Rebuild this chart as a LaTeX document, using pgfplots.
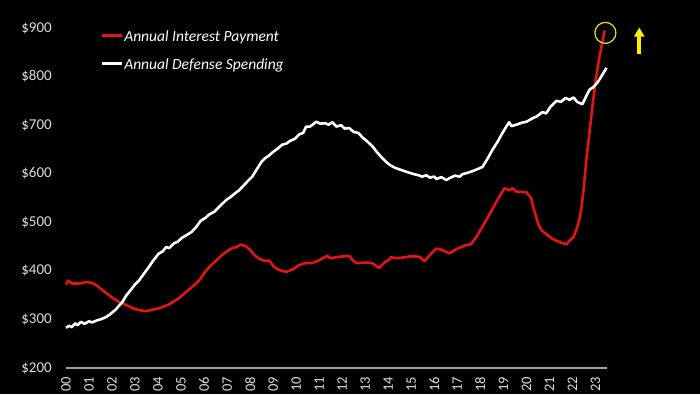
\documentclass[border=0pt]{standalone}
\usepackage{pgfplots}
\pgfplotsset{compat=1.18}
\usepackage{fontspec}
\setmainfont{Carlito}
\usetikzlibrary{arrows.meta}
\definecolor{intred}{RGB}{228,20,20}
\definecolor{ticktxt}{RGB}{220,220,220}
\definecolor{axgray}{RGB}{160,160,160}
\definecolor{circy}{RGB}{215,215,70}
\definecolor{arry}{RGB}{255,238,0}
\begin{document}
\begin{tikzpicture}
\fill[black] (-66pt,-26pt) rectangle (634pt,368pt);
\path[use as bounding box] (-66pt,-26pt) rectangle (634pt,368pt);
\begin{axis}[
  at={(0pt,0pt)}, anchor=south west,
  scale only axis, width=541pt, height=340pt,
  xmin=2000, xmax=2023.5, ymin=200, ymax=900,
  clip=false,
  axis line style={draw=none},
  major tick length=0pt,
  xtick={2000,...,2023},
  xticklabels={00,01,02,03,04,05,06,07,08,09,10,11,12,13,14,15,16,17,18,19,20,21,22,23},
  xticklabel style={rotate=90, anchor=east, font=\fontsize{14.5}{16}\selectfont, text=ticktxt, inner sep=0pt, xshift=-9pt},
  ytick={200,300,...,900},
  yticklabels={\$200,\$300,\$400,\$500,\$600,\$700,\$800,\$900},
  yticklabel style={anchor=east, font=\fontsize{15}{17}\selectfont, text=ticktxt, inner sep=0pt, xshift=-14pt},
  legend cell align=left,
  legend style={at={(rel axis cs:0.063,0.996)}, anchor=north west, draw=none, fill=none, text=white,
    font=\fontsize{15.5}{17}\selectfont\itshape, inner sep=0pt, row sep=15pt,
    nodes={inner sep=1pt, text depth=0pt}},
  legend image code/.code={\draw[#1, line width=3pt] (0pt,0pt) -- (20pt,0pt);},
]
\draw[axgray, line width=1.6pt] (rel axis cs:0,0) -- (rel axis cs:1,0);
\addplot[intred, line width=2.6pt, line join=round] coordinates {
(2000.00,372) (2000.10,380) (2000.25,374) (2000.57,374) (2000.90,377) (2001.13,375)
(2001.30,371) (2001.65,358) (2002.00,345) (2002.30,336) (2002.60,330) (2002.96,322)
(2003.20,319) (2003.48,317) (2003.75,320) (2004.04,323) (2004.48,331) (2004.91,344)
(2005.20,356) (2005.48,367) (2005.78,380) (2006.00,395) (2006.22,408) (2006.50,420)
(2006.78,433) (2007.17,446) (2007.40,449) (2007.60,454) (2007.80,451) (2007.96,445)
(2008.20,432) (2008.39,425) (2008.60,421) (2008.83,421) (2009.04,408) (2009.30,401)
(2009.57,398) (2009.85,403) (2010.13,412) (2010.40,416) (2010.70,416) (2011.00,422)
(2011.35,431) (2011.50,426) (2011.87,429) (2012.30,431) (2012.45,422) (2012.60,416)
(2013.00,417) (2013.30,416) (2013.60,406) (2013.85,418) (2014.04,423) (2014.10,428)
(2014.40,426) (2014.70,428) (2015.00,430) (2015.35,429) (2015.57,420) (2015.85,435)
(2016.09,446) (2016.35,443) (2016.65,436) (2017.00,446) (2017.39,453) (2017.60,455)
(2017.83,470) (2018.05,488) (2018.26,505) (2018.50,525) (2018.74,546) (2019.04,570)
(2019.26,566) (2019.40,570) (2019.57,563) (2020.00,562) (2020.20,550) (2020.35,522)
(2020.50,498) (2020.65,484) (2020.90,474) (2021.13,466) (2021.40,460) (2021.57,457)
(2021.75,455) (2021.87,462) (2022.05,470) (2022.17,485) (2022.30,505) (2022.39,530)
(2022.50,575) (2022.60,628) (2022.75,690) (2022.87,740) (2023.00,790) (2023.17,840)
(2023.30,872) (2023.40,895)
};
\addlegendentry{Annual Interest Payment}
\addplot[white, line width=2.6pt, line join=round] coordinates {
(2000.00,283) (2000.15,287) (2000.25,284) (2000.40,292) (2000.50,288) (2000.65,295)
(2000.80,291) (2001.00,296) (2001.13,294) (2001.35,298) (2001.55,301) (2001.74,305)
(2001.90,310) (2002.00,314) (2002.15,320) (2002.30,328) (2002.45,336) (2002.60,348)
(2002.80,360) (2003.00,372) (2003.17,380) (2003.35,392) (2003.60,408) (2003.80,422)
(2004.04,436) (2004.20,440) (2004.35,449) (2004.48,447) (2004.70,457) (2004.85,460)
(2005.04,468) (2005.25,474) (2005.45,480) (2005.65,490) (2005.85,503) (2006.05,509)
(2006.22,516) (2006.45,522) (2006.70,534) (2006.96,546) (2007.15,552) (2007.35,560)
(2007.52,566) (2007.70,575) (2007.90,585) (2008.09,594) (2008.30,610) (2008.50,625)
(2008.65,632) (2008.83,638) (2009.00,645) (2009.20,652) (2009.40,660) (2009.57,662)
(2009.75,668) (2009.95,672) (2010.13,681) (2010.30,684) (2010.43,697) (2010.60,697)
(2010.87,707) (2011.05,703) (2011.25,704) (2011.40,701) (2011.57,706) (2011.75,697)
(2011.95,700) (2012.10,693) (2012.30,694) (2012.50,686) (2012.70,684) (2012.87,675)
(2013.05,668) (2013.30,657) (2013.50,645) (2013.70,634) (2013.91,624) (2014.10,617)
(2014.30,612) (2014.60,607) (2014.85,603) (2015.05,600) (2015.30,597) (2015.48,594)
(2015.65,597) (2015.80,592) (2016.00,594) (2016.09,589) (2016.30,593) (2016.52,587)
(2016.70,592) (2016.90,596) (2017.10,594) (2017.22,599) (2017.45,602) (2017.70,606)
(2017.90,610) (2018.09,614) (2018.30,630) (2018.52,649) (2018.75,666) (2018.96,684)
(2019.10,695) (2019.25,706) (2019.35,698) (2019.57,701) (2019.80,705) (2020.00,707)
(2020.26,714) (2020.45,718) (2020.70,727) (2020.85,724) (2021.05,738) (2021.30,750)
(2021.50,748) (2021.70,756) (2021.87,752) (2022.05,757) (2022.20,748) (2022.43,743)
(2022.60,760) (2022.74,773) (2022.90,778) (2023.09,788) (2023.25,800) (2023.48,818)
};
\addlegendentry{Annual Defense Spending}
\draw[circy, line width=1.3pt] (axis cs:2023.43,890) circle[radius=10.5pt];
\draw[arry, line width=4pt, -{Triangle[width=10pt,length=9pt]}] (axis cs:2024.9,847) -- (axis cs:2024.9,901);
\end{axis}
\end{tikzpicture}
\end{document}
